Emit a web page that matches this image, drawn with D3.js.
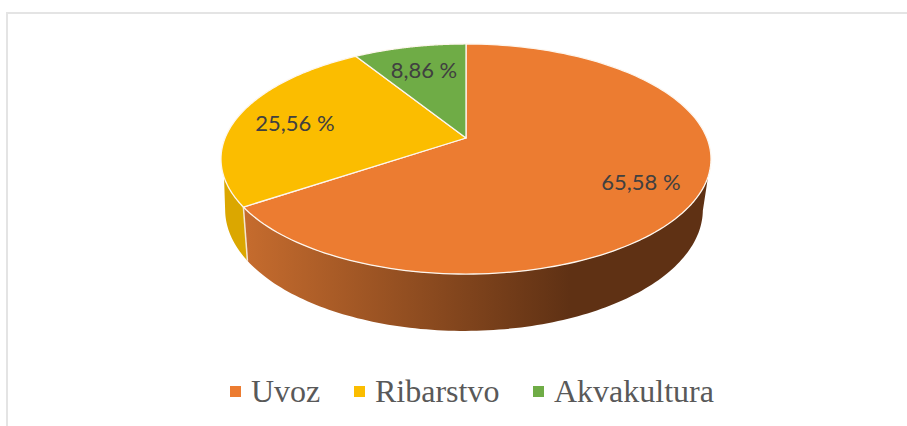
<!DOCTYPE html>
<html>
<head>
<meta charset="utf-8">
<script src="https://cdn.jsdelivr.net/npm/d3@7"></script>
<style>
  html, body { margin: 0; padding: 0; background: #fff; }
  svg { display: block; }
  .val-label { font-family: Lato, "Open Sans", sans-serif; font-size: 22px; fill: #404040; }
  .legend-label { font-family: "Liberation Serif", serif; font-size: 32px; fill: #595959; }
</style>
</head>
<body>
<div id="chart"></div>
<script>
// --- DATA ---
const categories = ["Uvoz", "Ribarstvo", "Akvakultura"];
const shares = [65.58, 25.56, 8.86];
const labels = ["65,58 %", "25,56 %", "8,86 %"];
const colors = ["#EC7C31", "#FBBD00", "#6FAC46"];
const sideColors = ["#C46A2C", "#DBA700", "#5E8F3C"];

const width = 907, height = 426;

const svg = d3.select("#chart").append("svg")
    .attr("width", width).attr("height", height);

// frame of the chart area, only top and left show in the crop
svg.append("path")
    .attr("d", `M7,426V13H907`)
    .attr("fill", "none").attr("stroke", "#e4e4e4").attr("stroke-width", 2);

// --- PIE + PERSPECTIVE ---
// slices go clockwise from 12 o'clock
const pie = d3.pie().sort(null).value(d => d);
const arcs = pie(shares);

const cx = 466, cy = 138;
const radX = 240.9, radY = 111.2, persp = 0.1826;
const depthY = 51.3, depthW = 0.025, depthX = -2;

function project(theta, z) {
    const u = Math.sin(theta), v = Math.cos(theta);
    const w = 1 + persp * v + depthW * z;
    return [cx + depthX * z + radX * u / w, cy + (-radY * v + depthY * z) / w];
}

function samples(a0, a1, n) {
    return d3.range(n + 1).map(i => a0 + (a1 - a0) * i / n);
}

const line = d3.line();

// --- SIDE WALL ---
const defs = svg.append("defs");
const grad = defs.append("linearGradient").attr("id", "side-orange")
    .attr("gradientUnits", "userSpaceOnUse")
    .attr("x1", 243).attr("x2", 570).attr("y1", 0).attr("y2", 0);
grad.append("stop").attr("offset", 0).attr("stop-color", "#C66C2E");
grad.append("stop").attr("offset", 1).attr("stop-color", "#5F3114");

// top and bottom rim have their own angle ranges, the silhouette edge joins them
function wallPath(topA0, topA1, botA0, botA1) {
    const top = samples(topA0, topA1, 120).map(t => project(t, 0));
    const bottom = samples(botA0, botA1, 120).map(t => project(t, 1)).reverse();
    return line(top.concat(bottom)) + "Z";
}

const uvoz = arcs[0], riba = arcs[1];
const rightTop = Math.PI * 0.607, rightBottom = Math.PI * 0.56;
const leftTop = Math.PI * 1.393, leftBottom = Math.PI * 1.44;

svg.append("path").attr("d", wallPath(riba.startAngle, leftTop, riba.startAngle, leftBottom))
    .attr("fill", sideColors[1]);
svg.append("path").attr("d", wallPath(rightTop, uvoz.endAngle, rightBottom, uvoz.endAngle))
    .attr("fill", "url(#side-orange)");

// seam between the two walls
svg.append("path")
    .attr("d", line([project(uvoz.endAngle, 0), project(uvoz.endAngle, 1)]))
    .attr("stroke", "#f3e6d0").attr("stroke-width", 1.5).attr("fill", "none");

// --- TOP FACE ---
function slicePath(d) {
    const ts = samples(d.startAngle, d.endAngle, 160);
    return line([[cx, cy]].concat(ts.map(t => project(t, 0)))) + "Z";
}

svg.selectAll(".slice").data(arcs).enter().append("path")
    .attr("class", "slice")
    .attr("d", slicePath)
    .attr("fill", (d, i) => colors[i])
    .attr("stroke", "#fdf6ee").attr("stroke-width", 1.3).attr("stroke-linejoin", "round");

// --- VALUE LABELS ---
const labelPos = [[641, 190], [295, 131], [424, 78]];
svg.selectAll(".val-label").data(labels).enter().append("text")
    .attr("class", "val-label")
    .attr("x", (d, i) => labelPos[i][0])
    .attr("y", (d, i) => labelPos[i][1])
    .attr("text-anchor", "middle")
    .text(d => d);

// --- LEGEND ---
const legendMarkerX = [230, 354, 533];
const legend = svg.selectAll(".legend").data(categories).enter().append("g")
    .attr("class", "legend")
    .attr("transform", (d, i) => `translate(${legendMarkerX[i]},386)`);
legend.append("rect").attr("width", 11).attr("height", 11)
    .attr("fill", (d, i) => colors[i]);
legend.append("text").attr("class", "legend-label")
    .attr("x", 21).attr("y", 16)
    .text(d => d);
</script>
</body>
</html>
